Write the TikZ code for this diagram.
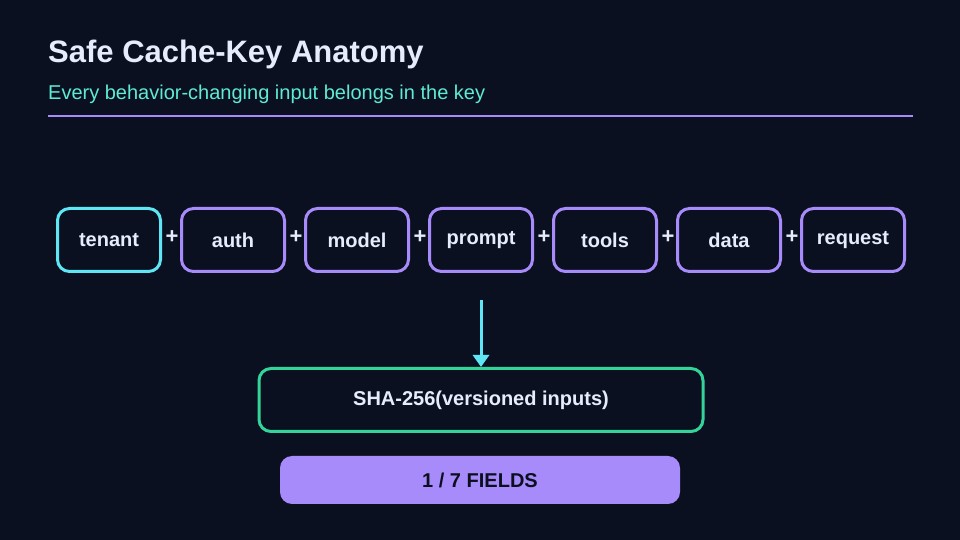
\documentclass[tikz,border=0pt]{standalone}
\usepackage{fontspec}
\setmainfont{Liberation Sans}
\usetikzlibrary{positioning,arrows.meta,calc}
\definecolor{bgc}{HTML}{0B1020}
\definecolor{titlec}{HTML}{E6ECFB}
\definecolor{subc}{HTML}{5EEAD4}
\definecolor{cyanc}{HTML}{5EE6F5}
\definecolor{purplec}{HTML}{A78BFA}
\definecolor{greenc}{HTML}{34D399}
\tikzset{
  field/.style={draw=purplec,line width=3pt,rounded corners=12pt,minimum width=103pt,minimum height=63pt,inner sep=0pt,text=titlec,font=\fontsize{20}{20}\selectfont\bfseries},
  plus/.style={text=titlec,font=\fontsize{22}{22}\selectfont\bfseries,inner sep=0pt}
}
\begin{document}
\begin{tikzpicture}[x=1pt,y=1pt]
\fill[bgc] (0,0) rectangle (960,540);
\useasboundingbox (0,0) rectangle (960,540);
\node (title) [anchor=base west,text=titlec,font=\fontsize{31}{31}\selectfont\bfseries,inner sep=0pt] at (48,477) {Safe Cache-Key Anatomy};
\node (sub) [anchor=base west,text=subc,font=\fontsize{20}{20}\selectfont,inner sep=0pt] at (48,440) {Every behavior-changing input belongs in the key};
\draw[purplec,line width=2.5pt] (48,424) -- (913,424);
% input fields
\node (tenant) [field,draw=cyanc] at (109,300) {tenant};
\node (auth) [field] at (233,300) {auth};
\node (model) [field] at (357,300) {model};
\node (prompt) [field] at (481,300) {prompt};
\node (tools) [field] at (605,300) {tools};
\node (data) [field] at (729,300) {data};
\node (request) [field] at (853,300) {request};
\foreach \a in {tenant,auth,model,prompt,tools,data}
  \node (p-\a) [plus] at ($(\a.east)+(10,3)$) {+};
% hash
\coordinate (top) at (481,240);
\node (hash) [draw=greenc,line width=3pt,rounded corners=12pt,minimum width=444pt,minimum height=63pt,text=titlec,font=\fontsize{20}{20}\selectfont\bfseries] at (481,140) {SHA-256(versioned inputs)};
\draw[cyanc,line width=3pt,-{Triangle[length=12pt,width=16pt]}] (top) -- (hash.north);
\node (count) [fill=purplec,rounded corners=12pt,minimum width=400pt,minimum height=48pt,text=bgc,font=\fontsize{20}{20}\selectfont\bfseries] at (480,60) {1 / 7 FIELDS};
\end{tikzpicture}
\end{document}
